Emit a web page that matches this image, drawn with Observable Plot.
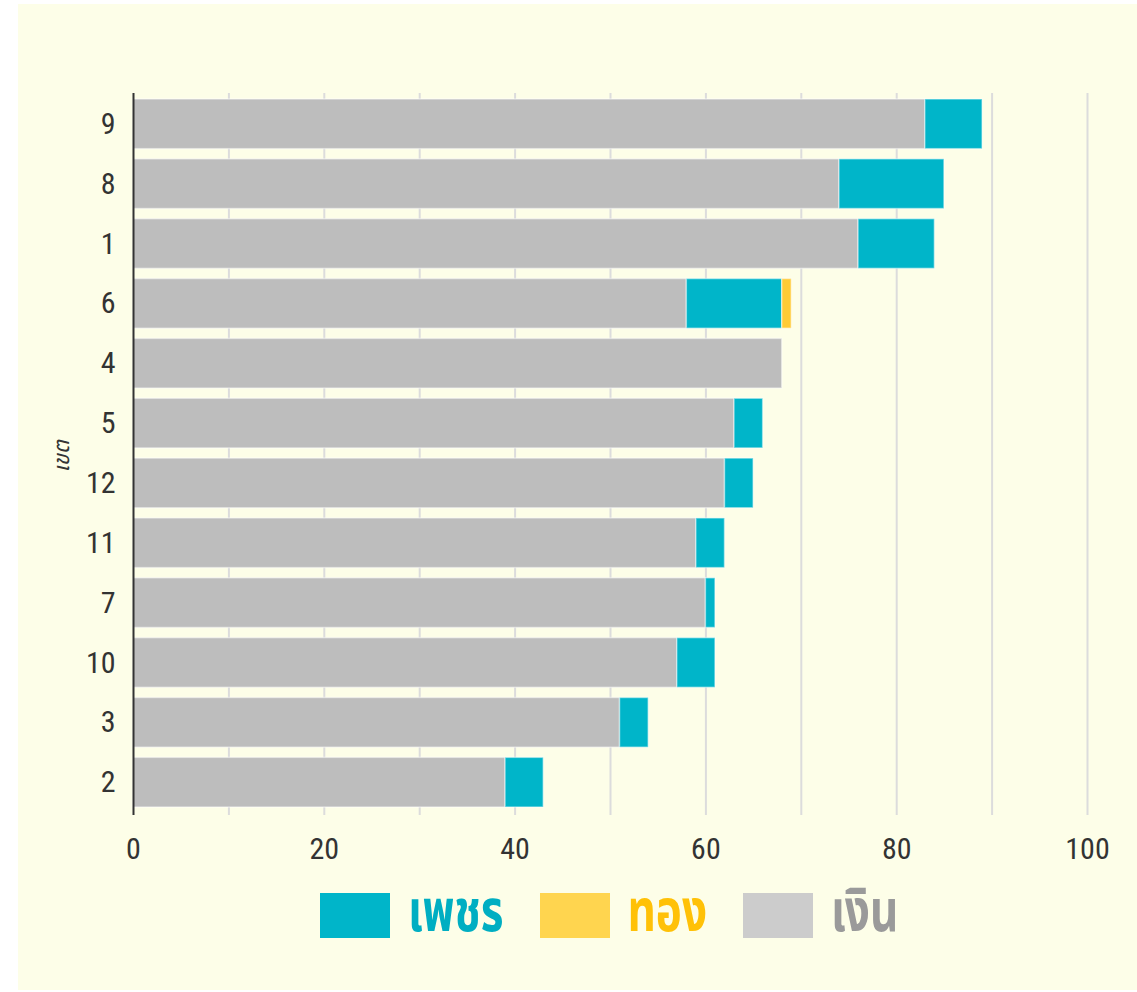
<!DOCTYPE html>
<html>
<head>
<meta charset="utf-8">
<script src="https://cdn.jsdelivr.net/npm/d3@7"></script>
<script src="https://cdn.jsdelivr.net/npm/@observablehq/plot@0.6"></script>
<style>
  body { margin: 0; background: #ffffff; }
  #panel { position: absolute; left: 18px; top: 4px; width: 1119px; height: 986px; background: #fdfee8; overflow: hidden; }
  #chart { position: absolute; left: 0; top: 0; }
  #legend { position: absolute; left: 302px; top: 886px; display: flex; align-items: center; font-family: 'Noto Sans Thai', 'Noto Sans', 'DejaVu Sans', sans-serif; font-weight: bold; font-size: 44px; }
  .sw { width: 70px; height: 45px; margin-right: 18px; }
  .lab { display: inline-block; margin-right: 36px; line-height: 50px; transform: scaleY(1.35); transform-origin: 50% 60%; }
</style>
</head>
<body>
<div id="panel">
  <div id="chart"></div>
  <div id="legend"></div>
</div>
<script>
// Data
const districts = ["9", "8", "1", "6", "4", "5", "12", "11", "7", "10", "3", "2"];
const silver  = [83, 74, 76, 58, 68, 63, 62, 59, 60, 57, 51, 39];
const diamond = [ 6, 11,  8, 10,  0,  3,  3,  3,  1,  4,  3,  4];
const gold    = [ 0,  0,  0,  1,  0,  0,  0,  0,  0,  0,  0,  0];
const medals = ["เพชร", "ทอง", "เงิน"];
const barColors = ["#00b5c9", "#ffcb35", "#bdbdbd"];
const swatchColors = ["#00b5c9", "#ffd54f", "#cccccc"];
const labelColors = ["#00aec2", "#ffc107", "#9a9a9a"];
const xTicks = [0, 20, 40, 60, 80, 100];
const gridValues = [10, 20, 30, 40, 50, 60, 70, 80, 90, 100];
const yLabel = "เขต";

const rows = [];
districts.forEach((d, i) => {
  rows.push({district: d, medal: "เงิน", value: silver[i]});
  rows.push({district: d, medal: "เพชร", value: diamond[i]});
  rows.push({district: d, medal: "ทอง", value: gold[i]});
});

const narrow = "'Liberation Sans Narrow', 'Roboto Condensed', 'Arial Narrow', sans-serif";

const chart = Plot.plot({
  width: 1119,
  height: 876,
  marginLeft: 115,
  marginRight: 50,
  marginTop: 89,
  marginBottom: 65,
  style: {background: "transparent", fontFamily: narrow, color: "#333"},
  x: {domain: [0, 100]},
  y: {domain: districts, range: [92, 806], round: false, paddingInner: 0.17, paddingOuter: 0.05},
  color: {domain: medals, range: barColors},
  marks: [
    Plot.ruleX(gridValues, {stroke: "#dcdcdc", strokeWidth: 2}),
    Plot.barX(rows, Plot.stackX({
      order: ["เงิน", "เพชร", "ทอง"],
      x: "value", y: "district", fill: "medal",
      stroke: "#ffffff", strokeOpacity: 0.45, strokeWidth: 1.5
    })),
    Plot.ruleX([0], {stroke: "#333333", strokeWidth: 2}),
    Plot.axisX({ticks: xTicks, tickSize: 0, tickPadding: 22, fontSize: 30, label: null, fill: "#333"}),
    Plot.axisY({tickSize: 0, tickPadding: 18, fontSize: 30, label: null, fill: "#333"}),
    Plot.text([yLabel], {frameAnchor: "left", dx: -72, dy: 18, rotate: -90, fontSize: 22, fontStyle: "italic", fill: "#333", fontFamily: "'Noto Sans Thai', 'Noto Sans', sans-serif"})
  ]
});
document.getElementById("chart").appendChild(chart);

const legend = document.getElementById("legend");
medals.forEach((m, i) => {
  const sw = document.createElement("div");
  sw.className = "sw";
  sw.style.background = swatchColors[i];
  legend.appendChild(sw);
  const lab = document.createElement("span");
  lab.className = "lab";
  lab.style.color = labelColors[i];
  lab.textContent = m;
  legend.appendChild(lab);
});
</script>
</body>
</html>
